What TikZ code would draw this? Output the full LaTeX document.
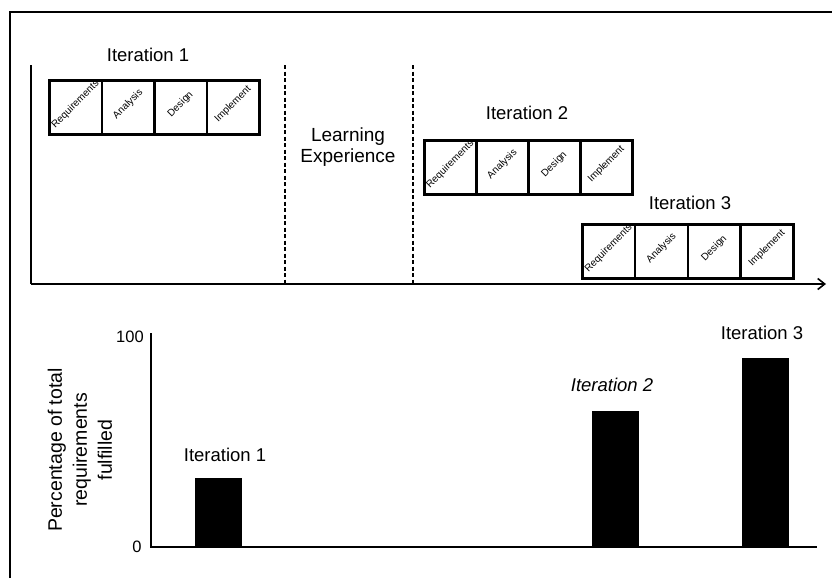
\documentclass[tikz,border=0pt]{standalone}
\usepackage{fontspec}
\setmainfont{Liberation Sans}
\usetikzlibrary{arrows.meta}

\begin{document}
\begin{tikzpicture}[x=1pt,y=-1pt,
  frame/.style={line width=2pt},
  axis/.style={line width=1.6pt},
  divider/.style={line width=1.3pt, dash pattern=on 4pt off 2.5pt},
  stagebox/.style={draw, line width=2.6pt, minimum height=54pt, anchor=north west, inner sep=0pt},
  stagelabel/.style={rotate=45, font=\fontsize{10}{12}\selectfont, inner sep=0pt},
  title/.style={font=\fontsize{18.5}{22}\selectfont, inner sep=0pt},
  ticklabel/.style={font=\fontsize{16.5}{20}\selectfont, inner sep=0pt},
  bar/.style={fill=black, minimum width=47pt, anchor=south, inner sep=0pt},
]
\useasboundingbox (0,0) rectangle (832,581);

% outer frame (left and top edges)
\coordinate (fa) at (10,578);
\coordinate (fb) at (10,12);
\coordinate (fc) at (832,12);
\draw[frame] (fa) -- (fb) -- (fc);

% ---------- upper timeline ----------
\coordinate (ya) at (31,65);
\coordinate (o1) at (31,284);
\coordinate (xe) at (826,284);
\draw[axis] (ya) -- (o1);
\draw[axis, -{Straight Barb[length=7pt,width=11pt]}] (o1) -- (xe);

% learning-experience band
\coordinate (d1t) at (285,65);
\coordinate (d1b) at (285,283);
\coordinate (d2t) at (413,65);
\coordinate (d2b) at (413,283);
\draw[divider] (d1t) -- (d1b);
\draw[divider] (d2t) -- (d2b);
\node[title, align=center, font=\fontsize{19}{21}\selectfont] (learn) at (348,147) {Learning\\Experience};

% iteration stage strips
\foreach \n/\x/\y/\w in {1/48/79/52.5, 2/423/139/52, 3/581/223/52.75} {
  \foreach \name [count=\k] in {Requirements, Analysis, Design, Implement} {
    \node[stagebox, minimum width=\w pt] (i\n s\k) at (\x+\w*\k-\w, \y) {};
    \node[stagelabel] (i\n l\k) at ([yshift=3pt]i\n s\k.center) {\name};
  }
}
\node[title] (t1) at (148,55) {Iteration 1};
\node[title] (t2) at (527,113) {Iteration 2};
\node[title] (t3) at (690,203) {Iteration 3};

% ---------- lower bar chart ----------
\coordinate (yb) at (151,333);
\coordinate (o2) at (151,547);
\coordinate (xb) at (817,547);
\draw[axis] (yb) -- (o2) -- (xb);

\node[ticklabel] (hundred) at (130,337) {100};
\node[ticklabel] (zero) at (137,547) {0};

\node[rotate=90, align=center, inner sep=0pt, font=\fontsize{19.5}{25}\selectfont] (ylab) at (80,450)
  {Percentage of total\\requirements\\fulfilled};

\node[bar, minimum height=69pt] (b1) at (218,547) {};
\node[bar, minimum height=136pt] (b2) at (615,547) {};
\node[bar, minimum height=189pt] (b3) at (765,547) {};

\node[title] (bl1) at (225,455) {Iteration 1};
\node[title, font=\fontsize{18.5}{22}\selectfont\itshape] (bl2) at (612,385) {Iteration 2};
\node[title] (bl3) at (762,333) {Iteration 3};
\end{tikzpicture}
\end{document}
